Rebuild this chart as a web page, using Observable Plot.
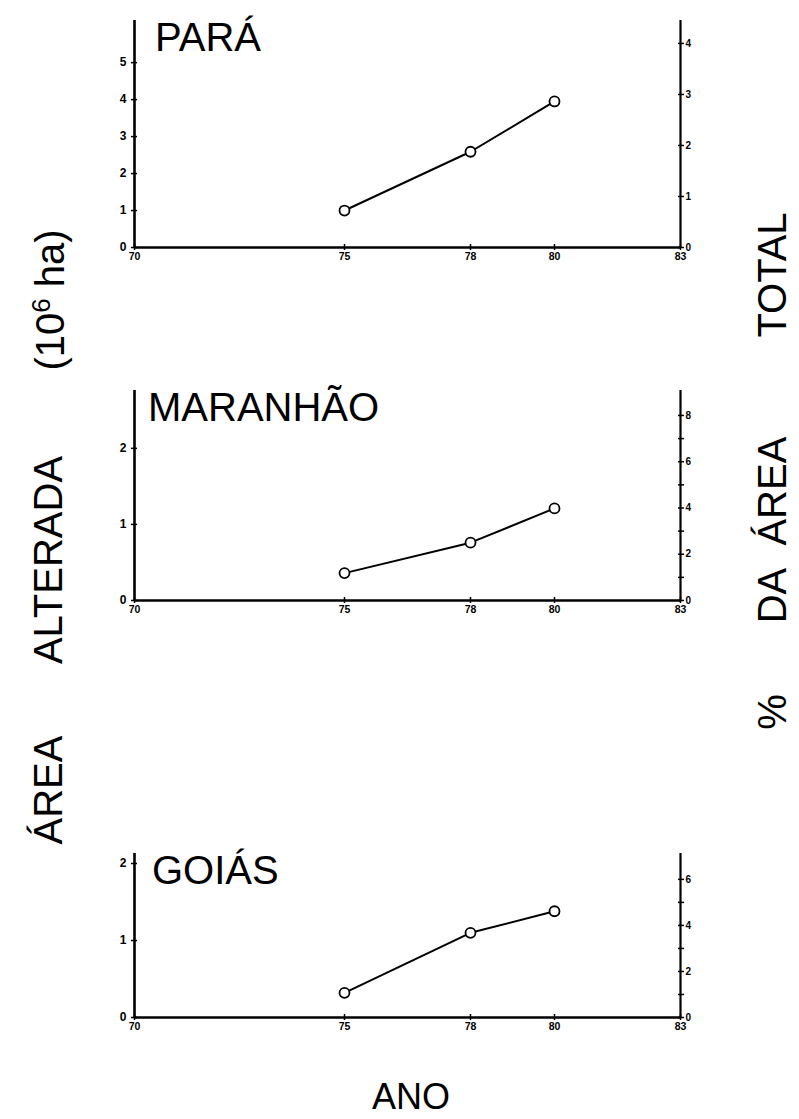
<!DOCTYPE html>
<html><head><meta charset="utf-8">
<script src="https://cdn.jsdelivr.net/npm/d3@7"></script>
<script src="https://cdn.jsdelivr.net/npm/@observablehq/plot@0.6"></script>
<style>
html,body{margin:0;padding:0;background:#fff;}
#fig{position:relative;width:799px;height:1119px;overflow:hidden;font-family:"Liberation Sans",Arial,sans-serif;color:#000;background:#fff;}
.abs{position:absolute;}
.title{font-size:40px;line-height:1;white-space:nowrap;}
.rot{font-size:40px;line-height:1;white-space:nowrap;transform:translate(-50%,-50%) rotate(-90deg);}
sup{font-size:0.65em;vertical-align:0.55em;line-height:0;}
</style></head><body><div id="fig"></div>
<script>
// ---- data ----
const states = ["PARÁ", "MARANHÃO", "GOIÁS"];
const years = [75, 78, 80];
const para = [1.0, 2.59, 3.95];          // 10^6 ha
const maranhao = [0.36, 0.76, 1.21];
const goias = [0.32, 1.10, 1.38];
const xTicks = [70, 75, 78, 80, 83];
const yTicksPara = [0, 1, 2, 3, 4, 5];
const yTicksMaranhao = [0, 1, 2];
const yTicksGoias = [0, 1, 2];
const pctTicksPara = [0, 1, 2, 3, 4];
const pctLabelsPara = [0, 1, 2, 3, 4];
const pctTicksMaranhao = [0, 1, 2, 3, 4, 5, 6, 7, 8];
const pctLabelsMaranhao = [0, 2, 4, 6, 8];
const pctTicksGoias = [0, 1, 2, 3, 4, 5, 6];
const pctLabelsGoias = [0, 2, 4, 6];
const haPerPercent = [1.38, 0.304, 0.299]; // 10^6 ha per 1 % of total area
const yMax = [6.14, 2.76, 2.13];

// ---- layout ----
const panelTop = [0, 370, 833];
const frameH = [227, 210, 164];
const titleX = [155, 148, 152];

const fig = document.getElementById("fig");
const font = '"Liberation Sans", Arial, sans-serif';

function panel(i, values, yTicks, pctTicks, pctLabels) {
  const k = haPerPercent[i];
  const data = years.map((x, j) => ({x, y: values[j]}));
  const mt = 20, mb = 24;
  const svg = Plot.plot({
    width: 799, height: frameH[i] + mt + mb,
    marginLeft: 134, marginRight: 119, marginTop: mt, marginBottom: mb,
    x: {domain: [70, 83]},
    y: {domain: [0, yMax[i]]},
    style: {fontFamily: font, fontSize: "10px", fontWeight: "bold", background: "transparent", color: "#000", overflow: "visible"},
    marks: [
      Plot.axisX({ticks: xTicks, tickFormat: d => String(d), tickSize: 6, dy: -3, tickPadding: 2, strokeWidth: 1.5, fontSize: 10.5, label: null}),
      Plot.axisY({ticks: yTicks, tickFormat: d => String(d), tickSize: 6, dx: 3, tickPadding: 5, strokeWidth: 1.5, fontSize: 12, label: null}),
      Plot.axisY({anchor: "right", ticks: pctTicks.map(p => p * k),
        tickFormat: d => { const p = Math.round(d / k); return pctLabels.includes(p) ? String(p) : ""; },
        tickSize: 6, dx: -3, tickPadding: 2, strokeWidth: 1.5, fontSize: 10, label: null}),
      Plot.ruleX([70], {stroke: "#000", strokeWidth: 2.6}),
      Plot.ruleX([83], {stroke: "#000", strokeWidth: 2.2}),
      Plot.ruleY([0], {stroke: "#000", strokeWidth: 2.4}),
      Plot.line(data, {x: "x", y: "y", stroke: "#000", strokeWidth: 2}),
      Plot.dot(data, {x: "x", y: "y", r: 5, fill: "white", stroke: "#000", strokeWidth: 1.8})
    ]
  });
  svg.style.position = "absolute";
  svg.style.left = "0px";
  svg.style.top = panelTop[i] + "px";
  fig.appendChild(svg);

  const t = document.createElement("div");
  t.className = "abs title";
  t.textContent = states[i];
  t.style.left = titleX[i] + "px";
  t.style.top = (panelTop[i] + mt - 3) + "px";
  fig.appendChild(t);
}

panel(0, para, yTicksPara, pctTicksPara, pctLabelsPara);
panel(1, maranhao, yTicksMaranhao, pctTicksMaranhao, pctLabelsMaranhao);
panel(2, goias, yTicksGoias, pctTicksGoias, pctLabelsGoias);

function rotText(html, cx, cy) {
  const d = document.createElement("div");
  d.className = "abs rot";
  d.innerHTML = html;
  d.style.left = cx + "px";
  d.style.top = cy + "px";
  fig.appendChild(d);
}
// left axis title
rotText("(10<sup>6</sup> ha)", 50, 300);
rotText("ALTERADA", 48, 560);
rotText("ÁREA", 48, 790);
// right axis title
rotText("TOTAL", 772, 275);
rotText("DA&nbsp; ÁREA", 772, 530);
rotText("%", 772, 712);

const ano = document.createElement("div");
ano.className = "abs title";
ano.textContent = "ANO";
ano.style.fontSize = "36px";
ano.style.left = "372px";
ano.style.top = "1079px";
fig.appendChild(ano);
</script></body></html>
